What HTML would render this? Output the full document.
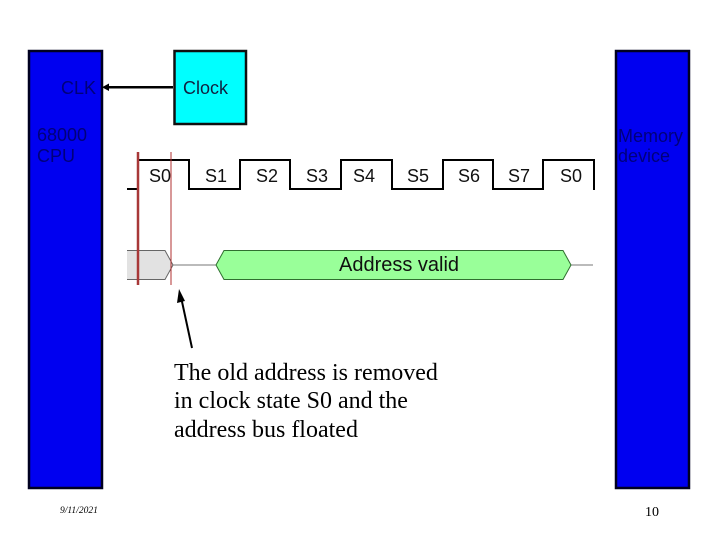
<!DOCTYPE html>
<html>
<head>
<meta charset="utf-8">
<style>
html,body{margin:0;padding:0;background:#fff;width:720px;height:540px;overflow:hidden}
svg{display:block}
.a{font-family:"Liberation Sans",sans-serif}
.t{font-family:"Liberation Serif",serif;font-size:24px;fill:#000}
</style>
</head>
<body>
<svg width="720" height="540" viewBox="0 0 720 540" xmlns="http://www.w3.org/2000/svg">
<rect x="29" y="51" width="73" height="437" fill="#0000f0" stroke="#000020" stroke-width="2.5"/>
<rect x="616" y="51" width="73" height="437" fill="#0000f0" stroke="#000020" stroke-width="2.5"/>
<rect x="174.500" y="51" width="71.500" height="73" fill="#00ffff" stroke="#101010" stroke-width="2.500"/>
<line x1="173" y1="87.300" x2="108" y2="87.300" stroke="#000" stroke-width="2.500"/>
<polygon points="102,87.300 109,83.500 109,91" fill="#000"/>
<g class="a" font-size="18" fill="#00007a">
<text x="61" y="94">CLK</text>
<text x="37" y="141">68000</text>
<text x="37" y="162">CPU</text>
<text x="618" y="142">Memory</text>
<text x="618" y="162">device</text>
</g>
<text class="a" x="183" y="94" font-size="18" fill="#102040">Clock</text>
<polyline points="127,189 138,189 138,160 189,160 189,189 240,189 240,160 290,160 290,189 341,189 341,160 392,160 392,189 443,189 443,160 493,160 493,189 543,189 543,160 594,160 594,190" fill="none" stroke="#000" stroke-width="2"/>
<g class="a" font-size="18" fill="#111">
<text x="149" y="182">S0</text>
<text x="205" y="182">S1</text>
<text x="256" y="182">S2</text>
<text x="306" y="182">S3</text>
<text x="353" y="182">S4</text>
<text x="407" y="182">S5</text>
<text x="458" y="182">S6</text>
<text x="508" y="182">S7</text>
<text x="560" y="182">S0</text>
</g>
<polyline points="173,265 216,265" stroke="#777" stroke-width="1" fill="none"/>
<line x1="571" y1="265" x2="593" y2="265" stroke="#777" stroke-width="1"/>
<polygon points="127,250.500 165,250.500 173,265 165,279.500 127,279.500" fill="#e2e2e2"/>
<polyline points="127,250.500 165,250.500 173,265 165,279.500 127,279.500" fill="none" stroke="#666" stroke-width="1"/>
<polygon points="216,265 224,250.500 563,250.500 571,265 563,279.500 224,279.500" fill="#99ff99" stroke="#2f6f2f" stroke-width="1"/>
<text class="a" x="339" y="271" font-size="20" fill="#101010">Address valid</text>
<line x1="138" y1="152" x2="138" y2="285" stroke="#a83838" stroke-width="2.500"/>
<line x1="171" y1="152" x2="171" y2="285" stroke="#b03030" stroke-width="1"/>
<line x1="192" y1="348" x2="181" y2="297" stroke="#000" stroke-width="2"/>
<polygon points="179,289 185,301 177,303" fill="#000"/>
<text class="t" x="174" y="380">The old address is removed</text>
<text class="t" x="174" y="408">in clock state S0 and the</text>
<text class="t" x="174" y="437">address bus floated</text>
<text x="60" y="513" font-family="'Liberation Serif',serif" font-size="9.500" font-style="italic" fill="#000">9/11/2021</text>
<text x="645" y="516" font-family="'Liberation Serif',serif" font-size="14" fill="#000">10</text>
</svg>
</body>
</html>
